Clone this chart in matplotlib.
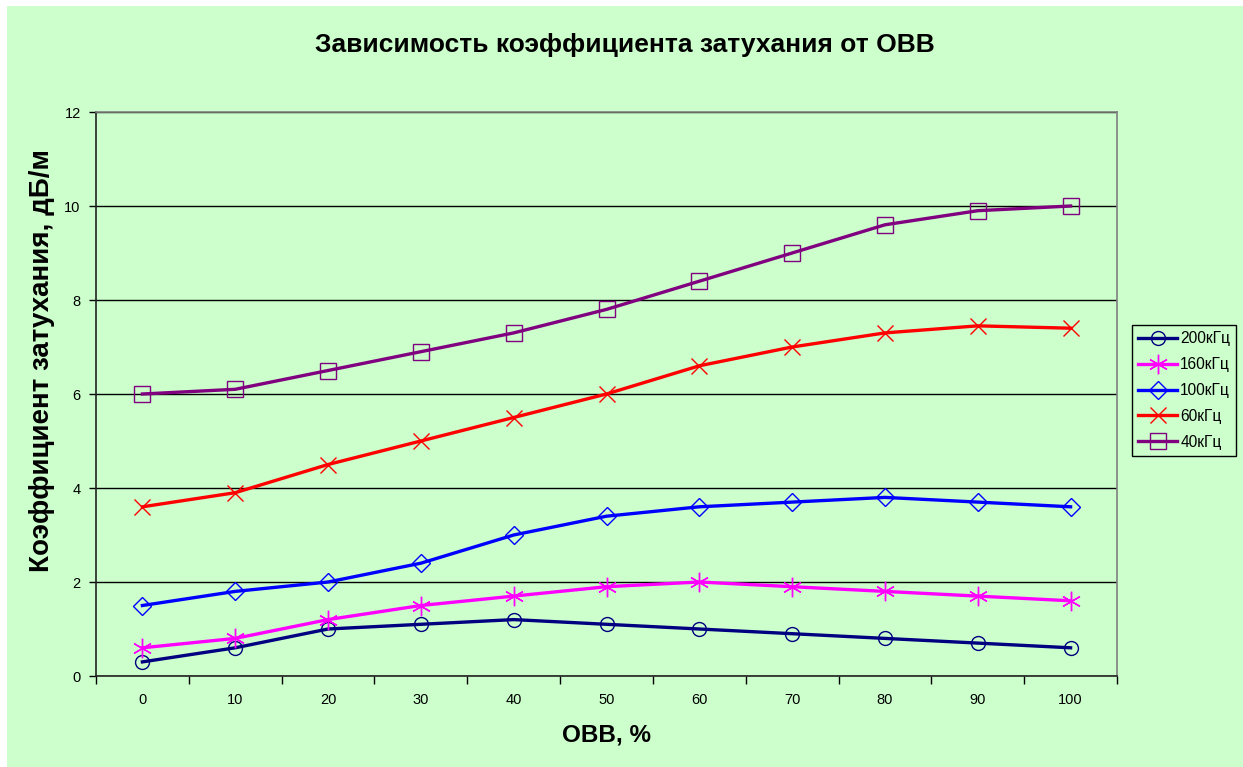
# -*- coding: utf-8 -*-
# attenuation coefficient vs OBB, Excel-style line chart
import numpy as np
import matplotlib.pyplot as plt
from matplotlib.patches import Rectangle

plt.rcParams['font.family'] = ['Liberation Sans', 'DejaVu Sans']

obb = ['0', '10', '20', '30', '40', '50', '60', '70', '80', '90', '100']
f200 = [0.3, 0.6, 1.0, 1.1, 1.2, 1.1, 1.0, 0.9, 0.8, 0.7, 0.6]
f160 = [0.6, 0.8, 1.2, 1.5, 1.7, 1.9, 2.0, 1.9, 1.8, 1.7, 1.6]
f100 = [1.5, 1.8, 2.0, 2.4, 3.0, 3.4, 3.6, 3.7, 3.8, 3.7, 3.6]
f60 = [3.6, 3.9, 4.5, 5.0, 5.5, 6.0, 6.6, 7.0, 7.3, 7.45, 7.4]
f40 = [6.0, 6.1, 6.5, 6.9, 7.3, 7.8, 8.4, 9.0, 9.6, 9.9, 10.0]
labels = ['200кГц', '160кГц', '100кГц', '60кГц', '40кГц']

green = '#CCFFCC'
fig = plt.figure(figsize=(12.43, 7.67), dpi=100)
fig.patch.set_facecolor('white')
fig.patches.append(Rectangle((7 / 1243, 0), 1, 1 - 6 / 767, transform=fig.transFigure,
                             facecolor=green, edgecolor='none', zorder=-10))

ax = fig.add_axes([96 / 1243, 91 / 767, 1021 / 1243, 564 / 767])
ax.set_facecolor(green)
x = np.arange(len(obb))

styles = [
    (f200, '#000080', 'o', 10),
    (f160, '#FF00FF', (6, 2, 0), 14),
    (f100, '#0000FF', 'D', 9),
    (f60, '#FF0000', 'x', 11),
    (f40, '#800080', 's', 12),
]
for (vals, col, mk, ms), lab in zip(styles, labels):
    ax.plot(x, vals, color=col, lw=2.4, marker=mk, ms=ms, mfc='none',
            mec=col, mew=1.0, label=lab, zorder=3)

ax.set_xlim(-0.5, len(obb) - 0.5)
ax.set_ylim(0, 12)
ax.set_yticks(range(0, 13, 2))
ax.yaxis.grid(True, color='black', lw=1)
ax.set_axisbelow(True)

# category boundaries as ticks, labels at centers
ax.set_xticks(np.arange(-0.5, len(obb), 1))
ax.set_xticklabels([])
ax.set_xticks(x, minor=True)
ax.set_xticklabels(obb, minor=True)
ax.tick_params(axis='x', which='major', direction='out', length=6, width=1, color='black')
ax.tick_params(axis='x', which='minor', length=0, pad=12, labelsize=10.5)
ax.tick_params(axis='y', direction='out', length=5, width=1, pad=6, labelsize=10.5)

for s in ['left', 'bottom']:
    ax.spines[s].set_color('#222222')
    ax.spines[s].set_linewidth(1.2)
for s in ['top', 'right']:
    ax.spines[s].set_color('#808080')
    ax.spines[s].set_linewidth(1.2)

fig.text(625 / 1243, 1 - 45 / 767, 'Зависимость коэффициента затухания от ОВВ',
         ha='center', va='center', fontsize=19, fontweight='bold')
ax.set_xlabel('ОВВ, %', fontsize=17.5, fontweight='bold', labelpad=12)
ax.set_ylabel('Коэффициент затухания, дБ/м', fontsize=20, fontweight='bold')
ax.yaxis.set_label_coords(-0.040, 0.559)

leg = fig.legend(loc='upper left', bbox_to_anchor=(1132 / 1243, 1 - 325 / 767),
                 fontsize=11.2, frameon=True, fancybox=False, facecolor=green,
                 edgecolor='black', framealpha=1, handlelength=2.5, borderpad=0.4,
                 labelspacing=0.7, handletextpad=0.2, borderaxespad=0)
leg.get_frame().set_linewidth(1.0)

plt.savefig('out.png', dpi=100, facecolor=fig.get_facecolor())
